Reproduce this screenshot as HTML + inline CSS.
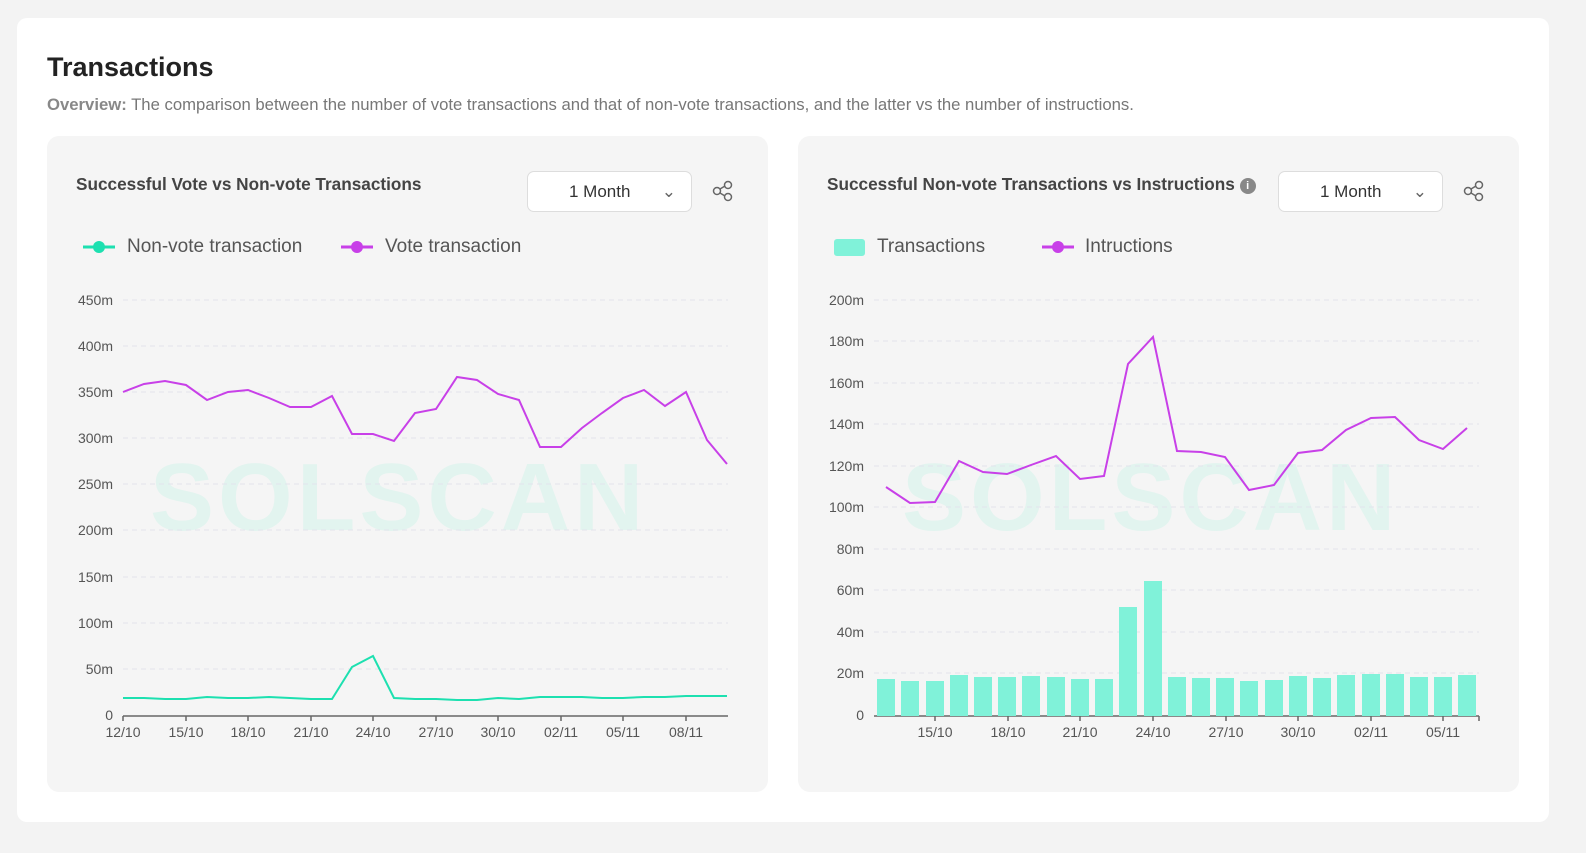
<!DOCTYPE html>
<html><head><meta charset="utf-8"><style>
body{margin:0;width:1586px;height:853px;background:#f3f3f3;font-family:"Liberation Sans",sans-serif;position:relative;overflow:hidden}
.card{position:absolute;left:17px;top:18px;width:1532px;height:804px;background:#fff;border-radius:10px}
h1{position:absolute;left:47px;top:52px;margin:0;font-size:27px;font-weight:bold;color:#222}
.ov{position:absolute;left:47px;top:95px;font-size:16.7px;color:#777}
.ov b{color:#888}
.panel{position:absolute;top:136px;width:721px;height:656px;background:#f5f5f5;border-radius:12px}
.pt{position:absolute;left:29px;top:38px;font-size:17.2px;font-weight:bold;color:#444}
.sel{position:absolute;top:35px;width:165px;height:41px;background:#fff;border:1px solid #ddd;border-radius:7px;box-sizing:border-box;font-size:17px;color:#333;line-height:39px;padding-left:41px}
.sel span{position:absolute;right:15px;top:0;color:#666}
svg{position:absolute;left:0;top:0}
</style></head><body>
<div class="card"></div>
<h1>Transactions</h1>
<div class="ov"><b>Overview:</b> The comparison between the number of vote transactions and that of non-vote transactions, and the latter vs the number of instructions.</div>

<div class="panel" style="left:47px">
<div class="pt">Successful Vote vs Non-vote Transactions</div>
<div class="sel" style="left:480px">1 Month<span>&#8964;</span></div>
</div>
<div class="panel" style="left:798px">
<div class="pt">Successful Non-vote Transactions vs Instructions <span style="display:inline-block;width:16px;height:16px;border-radius:8px;background:#888;color:#fff;font-size:11px;text-align:center;line-height:16px;vertical-align:1px">i</span></div>
<div class="sel" style="left:480px">1 Month<span>&#8964;</span></div>
</div>

<svg width="1586" height="853" font-family="Liberation Sans, sans-serif">
<g fill="none" stroke="#666" stroke-width="1.5">
<circle cx="717" cy="191" r="3.5"/><circle cx="728" cy="185" r="3.5"/><circle cx="728" cy="197" r="3.5"/><path d="M720 189l5-3M720 193l5 3"/>
<circle cx="1468" cy="191" r="3.5"/><circle cx="1479" cy="185" r="3.5"/><circle cx="1479" cy="197" r="3.5"/><path d="M1471 189l5-3M1471 193l5 3"/>
</g>
<text x="150" y="530" font-size="96" font-weight="bold" fill="#ccf3e8" opacity="0.45" letter-spacing="4">SOLSCAN</text>
<text x="902" y="530" font-size="96" font-weight="bold" fill="#ccf3e8" opacity="0.45" letter-spacing="4">SOLSCAN</text>
<g font-size="19" fill="#555">
<line x1="83" y1="247" x2="115" y2="247" stroke="#1de0b0" stroke-width="3"/><circle cx="99" cy="247" r="6" fill="#1de0b0"/>
<text x="127" y="252">Non-vote transaction</text>
<line x1="341" y1="247" x2="373" y2="247" stroke="#c840e8" stroke-width="3"/><circle cx="357" cy="247" r="6" fill="#c840e8"/>
<text x="385" y="252">Vote transaction</text>
<rect x="834" y="239" width="31" height="17" rx="3" fill="#80f2d9"/>
<text x="877" y="252">Transactions</text>
<line x1="1042" y1="247" x2="1074" y2="247" stroke="#c840e8" stroke-width="3"/><circle cx="1058" cy="247" r="6" fill="#c840e8"/>
<text x="1085" y="252">Intructions</text>
</g>
<g stroke="#e2e4ec" stroke-dasharray="5,4">
<line x1="123" x2="728" y1="300" y2="300"/><line x1="123" x2="728" y1="346" y2="346"/><line x1="123" x2="728" y1="392" y2="392"/><line x1="123" x2="728" y1="438" y2="438"/><line x1="123" x2="728" y1="484" y2="484"/><line x1="123" x2="728" y1="530" y2="530"/><line x1="123" x2="728" y1="577" y2="577"/><line x1="123" x2="728" y1="623" y2="623"/><line x1="123" x2="728" y1="669" y2="669"/>
<line x1="874" x2="1479" y1="300" y2="300"/><line x1="874" x2="1479" y1="341" y2="341"/><line x1="874" x2="1479" y1="383" y2="383"/><line x1="874" x2="1479" y1="424" y2="424"/><line x1="874" x2="1479" y1="466" y2="466"/><line x1="874" x2="1479" y1="507" y2="507"/><line x1="874" x2="1479" y1="549" y2="549"/><line x1="874" x2="1479" y1="590" y2="590"/><line x1="874" x2="1479" y1="632" y2="632"/><line x1="874" x2="1479" y1="673" y2="673"/>
</g>
<g font-size="14" fill="#555" text-anchor="end">
<text x="113" y="305">450m</text><text x="113" y="351">400m</text><text x="113" y="397">350m</text><text x="113" y="443">300m</text><text x="113" y="489">250m</text><text x="113" y="535">200m</text><text x="113" y="582">150m</text><text x="113" y="628">100m</text><text x="113" y="674">50m</text><text x="113" y="720">0</text>
<text x="864" y="305">200m</text><text x="864" y="346">180m</text><text x="864" y="388">160m</text><text x="864" y="429">140m</text><text x="864" y="471">120m</text><text x="864" y="512">100m</text><text x="864" y="554">80m</text><text x="864" y="595">60m</text><text x="864" y="637">40m</text><text x="864" y="678">20m</text><text x="864" y="720">0</text>
</g>
<g font-size="14" fill="#555" text-anchor="middle">
<text x="123" y="737">12/10</text><text x="186" y="737">15/10</text><text x="248" y="737">18/10</text><text x="311" y="737">21/10</text><text x="373" y="737">24/10</text><text x="436" y="737">27/10</text><text x="498" y="737">30/10</text><text x="561" y="737">02/11</text><text x="623" y="737">05/11</text><text x="686" y="737">08/11</text>
<text x="935" y="737">15/10</text><text x="1008" y="737">18/10</text><text x="1080" y="737">21/10</text><text x="1153" y="737">24/10</text><text x="1226" y="737">27/10</text><text x="1298" y="737">30/10</text><text x="1371" y="737">02/11</text><text x="1443" y="737">05/11</text>
</g>
<g stroke="#666" stroke-width="1.5">
<line x1="123" y1="716" x2="728" y2="716"/>
<path d="M123 716v5M186 716v5M248 716v5M311 716v5M373 716v5M436 716v5M498 716v5M561 716v5M623 716v5M686 716v5"/>
<line x1="874" y1="716" x2="1479" y2="716"/>
<path d="M935 716v5M1008 716v5M1080 716v5M1153 716v5M1226 716v5M1298 716v5M1371 716v5M1443 716v5M1479 716v5"/>
</g>
<polyline fill="none" stroke="#c840e8" stroke-width="2" points="123,392 144,384 165,381 186,385 207,400 228,392 248,390 269,398 290,407 311,407 332,396 352,434 373,434 394,441 415,413 436,409 457,377 477,380 498,394 519,400 540,447 561,447 582,428 602,413 623,398 644,390 665,406 686,392 707,440 727,464"/>
<polyline fill="none" stroke="#1de0b0" stroke-width="2" points="123,698 144,698 165,699 186,699 207,697 228,698 248,698 269,697 290,698 311,699 332,699 352,667 373,656 394,698 415,699 436,699 457,700 477,700 498,698 519,699 540,697 561,697 582,697 602,698 623,698 644,697 665,697 686,696 707,696 727,696"/>
<g fill="#80f2d9">
<rect x="877" y="679" width="18" height="37"/><rect x="901" y="681" width="18" height="35"/><rect x="926" y="681" width="18" height="35"/><rect x="950" y="675" width="18" height="41"/><rect x="974" y="677" width="18" height="39"/><rect x="998" y="677" width="18" height="39"/><rect x="1022" y="676" width="18" height="40"/><rect x="1047" y="677" width="18" height="39"/><rect x="1071" y="679" width="18" height="37"/><rect x="1095" y="679" width="18" height="37"/><rect x="1119" y="607" width="18" height="109"/><rect x="1144" y="581" width="18" height="135"/><rect x="1168" y="677" width="18" height="39"/><rect x="1192" y="678" width="18" height="38"/><rect x="1216" y="678" width="18" height="38"/><rect x="1240" y="681" width="18" height="35"/><rect x="1265" y="680" width="18" height="36"/><rect x="1289" y="676" width="18" height="40"/><rect x="1313" y="678" width="18" height="38"/><rect x="1337" y="675" width="18" height="41"/><rect x="1362" y="674" width="18" height="42"/><rect x="1386" y="674" width="18" height="42"/><rect x="1410" y="677" width="18" height="39"/><rect x="1434" y="677" width="18" height="39"/><rect x="1458" y="675" width="18" height="41"/>
</g>
<polyline fill="none" stroke="#c840e8" stroke-width="2" points="886,487 910,503 935,502 959,461 983,472 1007,474 1031,465 1056,456 1080,479 1104,476 1128,364 1153,337 1177,451 1201,452 1225,457 1249,490 1274,485 1298,453 1322,450 1346,430 1371,418 1395,417 1419,440 1443,449 1467,428"/>
</svg>
</body></html>
